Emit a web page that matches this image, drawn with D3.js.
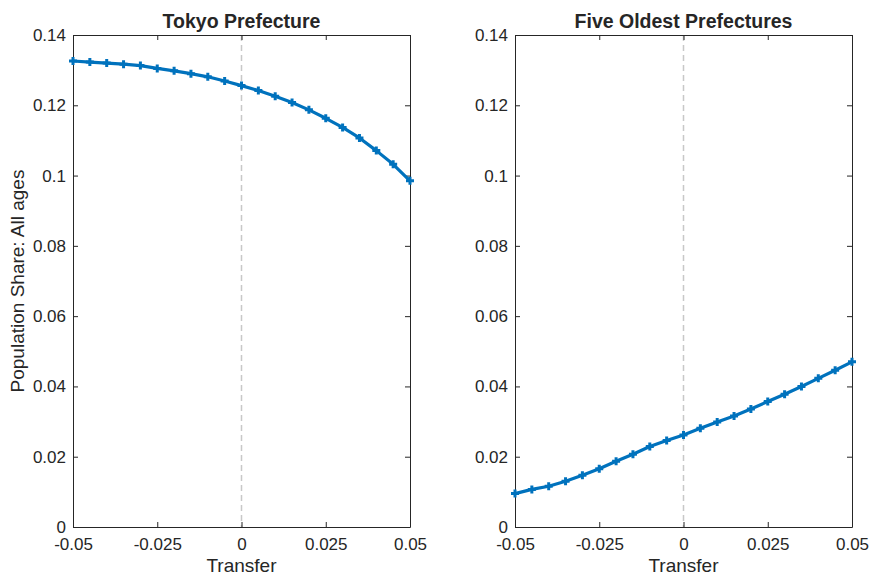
<!DOCTYPE html>
<html lang="en">
<head>
<meta charset="UTF-8">
<title>Population share vs transfer</title>
<script src="https://cdn.jsdelivr.net/npm/d3@7"></script>
<style>
  body { margin: 0; background: #fff; }
  text { font-family: "Liberation Sans", Arial, Helvetica, sans-serif; fill: #262626; }
</style>
</head>
<body>
<script>
// data
var transfer = [-0.05, -0.045, -0.04, -0.035, -0.03, -0.025, -0.02, -0.015, -0.01, -0.005,
  0, 0.005, 0.01, 0.015, 0.02, 0.025, 0.03, 0.035, 0.04, 0.045, 0.05];
var tokyoShare = [0.1326, 0.1323, 0.1320, 0.1317, 0.1313, 0.1305, 0.1298, 0.1290, 0.1281, 0.1269,
  0.1256, 0.1242, 0.1226, 0.1208, 0.1187, 0.1163, 0.1137, 0.1107, 0.1071, 0.1032, 0.0985];
var oldestShare = [0.0095, 0.0107, 0.0116, 0.0130, 0.0147, 0.0166, 0.0187, 0.0207, 0.0229, 0.0246,
  0.0262, 0.0281, 0.0299, 0.0316, 0.0336, 0.0357, 0.0378, 0.0400, 0.0423, 0.0446, 0.0470];
var xTicks = [-0.05, -0.025, 0, 0.025, 0.05];
var xTickLabels = ["-0.05", "-0.025", "0", "0.025", "0.05"];
var yTicks = [0, 0.02, 0.04, 0.06, 0.08, 0.1, 0.12, 0.14];
var yTickLabels = ["0", "0.02", "0.04", "0.06", "0.08", "0.1", "0.12", "0.14"];
var titles = ["Tokyo Prefecture", "Five Oldest Prefectures"];

var w = 871, h = 577;
var top_ = 35, bottom = 527;
var panels = [
  { left: 73, right: 410, values: tokyoShare, title: titles[0], ylabel: true },
  { left: 515, right: 852, values: oldestShare, title: titles[1], ylabel: false }
];
var blue = "#0072BD";

var svg = d3.select("body").append("svg")
  .attr("width", w)
  .attr("height", h);

var yScale = d3.scaleLinear().domain([0, 0.14]).range([bottom, top_]);

panels.forEach(function(p) {
  var xScale = d3.scaleLinear().domain([-0.05, 0.05]).range([p.left, p.right]);
  var g = svg.append("g");

  // dashed zero line
  g.append("line")
    .attr("x1", xScale(0)).attr("x2", xScale(0))
    .attr("y1", top_).attr("y2", bottom)
    .attr("stroke", "#c8c8c8")
    .attr("stroke-width", 1.5)
    .attr("stroke-dasharray", "6,4");

  // axes (ticks inward, box on all sides)
  var xAxis = d3.axisBottom(xScale).tickValues(xTicks)
    .tickFormat(function(d, i) { return xTickLabels[i]; })
    .tickSizeInner(-5).tickSizeOuter(0).tickPadding(11);
  var xAxisTop = d3.axisTop(xScale).tickValues(xTicks)
    .tickFormat("").tickSizeInner(-5).tickSizeOuter(0);
  var yAxis = d3.axisLeft(yScale).tickValues(yTicks)
    .tickFormat(function(d, i) { return yTickLabels[i]; })
    .tickSizeInner(-5).tickSizeOuter(0).tickPadding(7);
  var yAxisRight = d3.axisRight(yScale).tickValues(yTicks)
    .tickFormat("").tickSizeInner(-5).tickSizeOuter(0);

  [
    [xAxis, "translate(0," + bottom + ")"],
    [xAxisTop, "translate(0," + top_ + ")"],
    [yAxis, "translate(" + p.left + ",0)"],
    [yAxisRight, "translate(" + p.right + ",0)"]
  ].forEach(function(a) {
    var ag = g.append("g").attr("transform", a[1]).call(a[0]);
    ag.select(".domain").attr("stroke", "#262626").attr("stroke-width", 1);
    ag.selectAll(".tick line").attr("stroke", "#262626").attr("stroke-width", 1);
    ag.selectAll(".tick text")
      .style("font-size", "17px")
      .attr("fill", "#262626");
  });

  // series line
  var line = d3.line()
    .x(function(d, i) { return xScale(transfer[i]); })
    .y(function(d) { return yScale(d); });
  g.append("path")
    .datum(p.values)
    .attr("d", line)
    .attr("fill", "none")
    .attr("stroke", blue)
    .attr("stroke-width", 3.2)
    .attr("stroke-linejoin", "round");

  // plus markers
  var s = 4;
  g.selectAll("path.mark")
    .data(p.values)
    .enter()
    .append("path")
    .attr("class", "mark")
    .attr("d", function(d, i) {
      var cx = xScale(transfer[i]), cy = yScale(d);
      return "M" + (cx - s) + "," + cy + "H" + (cx + s) + "M" + cx + "," + (cy - s) + "V" + (cy + s);
    })
    .attr("stroke", blue)
    .attr("stroke-width", 3);

  // title
  g.append("text")
    .attr("x", (p.left + p.right) / 2)
    .attr("y", 28)
    .attr("text-anchor", "middle")
    .style("font-size", "19.5px")
    .style("font-weight", "bold")
    .attr("fill", "#000")
    .text(p.title);

  // x label
  g.append("text")
    .attr("x", (p.left + p.right) / 2)
    .attr("y", 572)
    .attr("text-anchor", "middle")
    .style("font-size", "19px")
    .text("Transfer");

  if (p.ylabel) {
    g.append("text")
      .attr("transform", "translate(24," + ((top_ + bottom) / 2) + ") rotate(-90)")
      .attr("text-anchor", "middle")
      .style("font-size", "19px")
      .text("Population Share: All ages");
  }
});
</script>
</body>
</html>
